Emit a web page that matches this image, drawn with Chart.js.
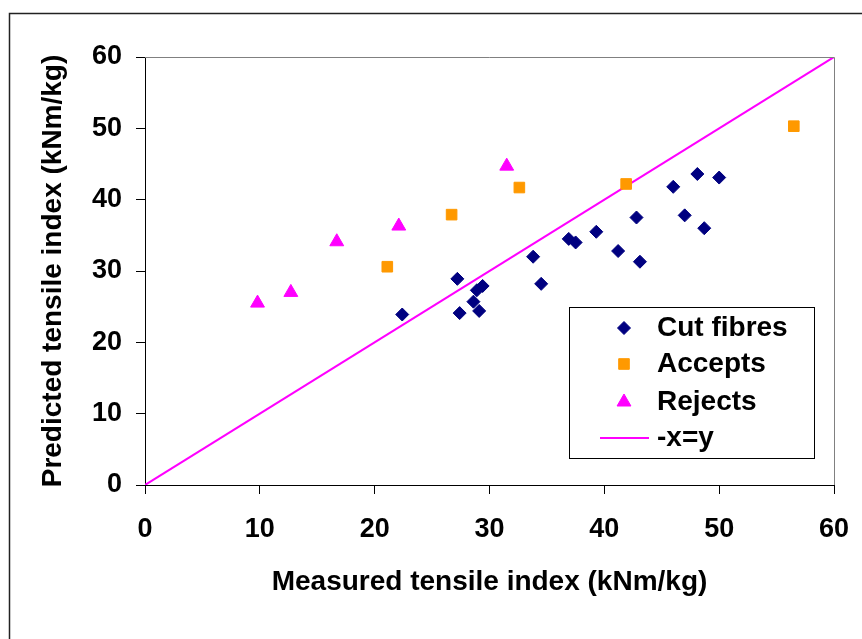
<!DOCTYPE html>
<html>
<head>
<meta charset="utf-8">
<script src="https://cdn.jsdelivr.net/npm/chart.js@4.4.1/dist/chart.umd.min.js"></script>
<style>
  body { margin: 0; background: #fff; }
  canvas { display: block; }
</style>
</head>
<body>
<canvas id="tensileChart" width="862" height="639"></canvas>
<script>
// Measured vs predicted tensile index, kNm/kg
const cutMeasured = [22.4, 27.2, 27.4, 28.6, 28.9, 29.4, 29.1, 33.8, 34.5, 36.9, 37.5, 39.3, 41.2, 42.8, 43.1, 46.0, 47.0, 48.1, 48.7, 50.0];
const cutPredicted = [23.9, 28.9, 24.1, 25.7, 27.3, 27.9, 24.4, 32.0, 28.2, 34.5, 34.0, 35.5, 32.8, 37.5, 31.3, 41.8, 37.8, 43.6, 36.0, 43.1];
const acceptsMeasured = [21.1, 26.7, 32.6, 41.9, 56.5];
const acceptsPredicted = [30.6, 37.9, 41.7, 42.2, 50.3];
const rejectsMeasured = [9.8, 12.7, 16.7, 22.1, 31.5];
const rejectsPredicted = [25.5, 27.0, 34.1, 36.3, 44.7];
const refLineX = [0, 60];
const refLineY = [0, 60];
const seriesNames = ['Cut fibres', 'Accepts', 'Rejects', '-x=y'];
const axisTicks = [0, 10, 20, 30, 40, 50, 60];

const FONT = "'Liberation Sans', Arial, Helvetica, sans-serif";
Chart.defaults.font.family = FONT;
Chart.defaults.color = '#000';

function toPoints(xs, ys) {
    return xs.map((x, i) => ({ x: x, y: ys[i] }));
}

// outer frame of the figure
const figureFrame = {
    id: 'figureFrame',
    beforeDraw(chart) {
        const ctx = chart.ctx;
        ctx.save();
        ctx.fillStyle = '#fff';
        ctx.fillRect(0, 0, chart.width, chart.height);
        ctx.strokeStyle = '#222';
        ctx.lineWidth = 1.5;
        ctx.beginPath();
        ctx.moveTo(9.5, chart.height + 5);
        ctx.lineTo(9.5, 13.5);
        ctx.lineTo(chart.width + 5, 13.5);
        ctx.stroke();
        ctx.restore();
    },
    afterDraw(chart) {
        // grey top and right edges of the plot area
        const a = chart.chartArea;
        const ctx = chart.ctx;
        ctx.save();
        ctx.strokeStyle = '#808080';
        ctx.lineWidth = 1;
        ctx.beginPath();
        ctx.moveTo(a.left, Math.round(a.top) + 0.5);
        ctx.lineTo(Math.round(a.right) + 0.5, Math.round(a.top) + 0.5);
        ctx.lineTo(Math.round(a.right) + 0.5, a.bottom);
        ctx.stroke();
        ctx.restore();
    }
};

// boxed legend inside the plot area
const boxLegend = {
    id: 'boxLegend',
    afterDatasetsDraw(chart) {
        const ctx = chart.ctx;
        const box = { left: 569, top: 307, right: 814, bottom: 458 };
        const rowY = [328, 364, 402, 438];
        ctx.save();
        ctx.fillStyle = '#fff';
        ctx.fillRect(box.left, box.top, box.right - box.left, box.bottom - box.top);
        ctx.strokeStyle = '#000';
        ctx.lineWidth = 1;
        ctx.strokeRect(box.left + 0.5, box.top + 0.5, box.right - box.left, box.bottom - box.top);

        chart.data.datasets.forEach((ds, i) => {
            const y = rowY[i];
            if (ds.showLine) {
                ctx.strokeStyle = ds.borderColor;
                ctx.lineWidth = ds.borderWidth;
                ctx.beginPath();
                ctx.moveTo(600, y);
                ctx.lineTo(649, y);
                ctx.stroke();
            } else {
                ctx.fillStyle = ds.backgroundColor;
                ctx.strokeStyle = ds.borderColor;
                Chart.helpers.drawPoint(ctx, {
                    pointStyle: ds.pointStyle,
                    radius: ds.pointRadius,
                    borderWidth: 1,
                    rotation: 0
                }, 624, y);
            }
            ctx.fillStyle = '#000';
            ctx.font = 'bold 28px ' + FONT;
            ctx.textBaseline = 'middle';
            ctx.textAlign = 'left';
            ctx.fillText(ds.label, 657, y);
        });
        ctx.restore();
    }
};

const tickFont = { size: 27, weight: 'bold' };
const titleFont = { size: 28, weight: 'bold' };

new Chart(document.getElementById('tensileChart'), {
    type: 'scatter',
    data: {
        datasets: [
            {
                label: seriesNames[0],
                data: toPoints(cutMeasured, cutPredicted),
                pointStyle: 'rectRot',
                pointRadius: 6.5,
                backgroundColor: '#000080',
                borderColor: '#000080',
                borderWidth: 1
            },
            {
                label: seriesNames[1],
                data: toPoints(acceptsMeasured, acceptsPredicted),
                pointStyle: 'rect',
                pointRadius: 7.5,
                backgroundColor: '#FF9900',
                borderColor: '#FF9900',
                borderWidth: 1
            },
            {
                label: seriesNames[2],
                data: toPoints(rejectsMeasured, rejectsPredicted),
                pointStyle: 'triangle',
                pointRadius: 8,
                backgroundColor: '#FF00FF',
                borderColor: '#FF00FF',
                borderWidth: 1
            },
            {
                label: seriesNames[3],
                data: toPoints(refLineX, refLineY),
                showLine: true,
                pointRadius: 0,
                borderColor: '#FF00FF',
                backgroundColor: '#FF00FF',
                borderWidth: 2
            }
        ]
    },
    options: {
        responsive: false,
        animation: false,
        devicePixelRatio: 1,
        layout: { padding: { left: 0, right: 28, top: 57, bottom: 0 } },
        plugins: {
            legend: { display: false },
            tooltip: { enabled: false }
        },
        scales: {
            x: {
                type: 'linear',
                min: 0,
                max: 60,
                afterBuildTicks: s => { s.ticks = axisTicks.map(v => ({ value: v })); },
                afterFit: s => { s.height = 154; s.paddingLeft = 0; s.paddingRight = 0; },
                grid: { drawOnChartArea: false, tickLength: 9, color: '#000', lineWidth: 1 },
                border: { color: '#000', width: 1 },
                ticks: { padding: 19, color: '#000', font: tickFont, maxRotation: 0 },
                title: {
                    display: true,
                    text: 'Measured tensile index (kNm/kg)',
                    color: '#000',
                    font: titleFont,
                    padding: { top: 0, bottom: 40 }
                }
            },
            y: {
                type: 'linear',
                min: 0,
                max: 60,
                afterBuildTicks: s => { s.ticks = axisTicks.map(v => ({ value: v })); },
                afterFit: s => { s.width = 145; s.paddingTop = 0; s.paddingBottom = 0; },
                grid: { drawOnChartArea: false, tickLength: 9, color: '#000', lineWidth: 1 },
                border: { color: '#000', width: 1 },
                ticks: { padding: 14, color: '#000', font: tickFont },
                title: {
                    display: true,
                    text: 'Predicted tensile index (kNm/kg)',
                    color: '#000',
                    font: titleFont,
                    padding: { top: 36, bottom: 0 }
                }
            }
        }
    },
    plugins: [figureFrame, boxLegend]
});
</script>
</body>
</html>
